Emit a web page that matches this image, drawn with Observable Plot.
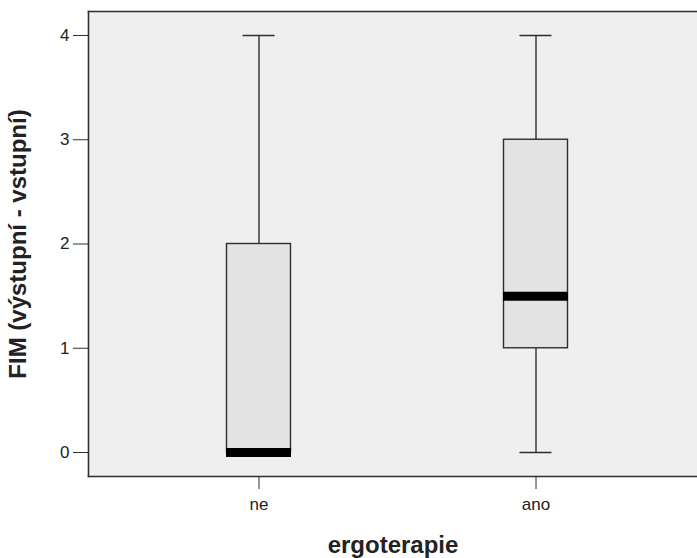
<!DOCTYPE html>
<html>
<head>
<meta charset="utf-8">
<script src="https://cdn.jsdelivr.net/npm/d3@7"></script>
<script src="https://cdn.jsdelivr.net/npm/@observablehq/plot@0.6"></script>
<style>
  html, body { margin: 0; padding: 0; background: white; }
  #chart svg g[aria-label="y-axis label"] text,
  #chart svg g[aria-label="x-axis label"] text { font-weight: bold; font-size: 24px; }
</style>
</head>
<body>
<div id="chart"></div>
<script>
const categories = ["ne", "ano"];
const whiskerLow = [0, 0];
const quartile1 = [0, 1];
const medians = [0, 1.5];
const quartile3 = [2, 3];
const whiskerHigh = [4, 4];
const yTicks = [0, 1, 2, 3, 4];
const xTitle = "ergoterapie";
const yTitle = "FIM (výstupní - vstupní)";

const data = categories.map((c, i) => ({
  cat: c, lo: whiskerLow[i], q1: quartile1[i], med: medians[i], q3: quartile3[i], hi: whiskerHigh[i]
}));

const W = 697, H = 558;
const ink = "#2e2e2e";

const chart = Plot.plot({
  width: W,
  height: H,
  marginLeft: 88,
  marginRight: 0,
  marginTop: 11,
  marginBottom: 82,
  style: { fontFamily: "Arial, 'Liberation Sans', sans-serif", fontSize: "16px", background: "white", color: "#222" },
  x: { type: "band", domain: categories, range: [119.5, 673.5], padding: 0, axis: null },
  y: { domain: [-0.23, 4.23], axis: null },
  marks: [
    Plot.frame({ fill: "#efefef", stroke: null }),
    Plot.ruleX(data, { x: "cat", y1: "lo", y2: "q1", stroke: ink, strokeWidth: 1.4 }),
    Plot.ruleX(data, { x: "cat", y1: "q3", y2: "hi", stroke: ink, strokeWidth: 1.4 }),
    Plot.tickY(data, { x: "cat", y: "hi", stroke: ink, strokeWidth: 1.6, insetLeft: 122.5, insetRight: 122.5 }),
    Plot.tickY(data, { x: "cat", y: "lo", stroke: ink, strokeWidth: 1.6, insetLeft: 122.5, insetRight: 122.5 }),
    Plot.barY(data, { x: "cat", y1: "q1", y2: "q3", fill: "#e3e3e3", stroke: ink, strokeWidth: 1.4, insetLeft: 106.5, insetRight: 106.5 }),
    Plot.tickY(data, { x: "cat", y: "med", stroke: "black", strokeWidth: 9, insetLeft: 106, insetRight: 106 }),
    Plot.frame({ anchor: "left", stroke: ink, strokeWidth: 1.6 }),
    Plot.frame({ anchor: "top", stroke: ink, strokeWidth: 1.6 }),
    Plot.frame({ anchor: "bottom", stroke: ink, strokeWidth: 1.6 }),
    Plot.axisY({ ticks: yTicks, tickSize: 15, tickPadding: 4, tickFormat: d => String(d), fontSize: 17,
      label: yTitle, labelArrow: "none", labelAnchor: "center", labelOffset: 80, stroke: ink }),
    Plot.axisX({ tickSize: 13, tickPadding: 8, fontSize: 17,
      label: xTitle, labelArrow: "none", labelAnchor: "center", labelOffset: 76, stroke: ink })
  ]
});
document.getElementById("chart").appendChild(chart);
</script>
</body>
</html>
